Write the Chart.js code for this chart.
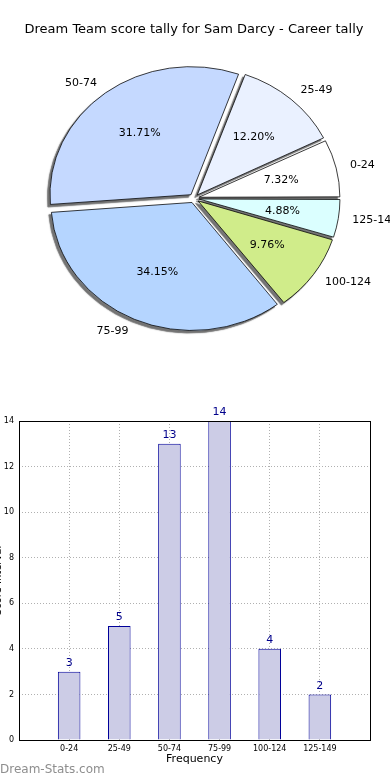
<!DOCTYPE html>
<html>
<head>
<meta charset="utf-8">
<script src="https://cdn.jsdelivr.net/npm/chart.js@4/dist/chart.umd.min.js"></script>
<style>
  html, body { margin: 0; padding: 0; background: #fff; overflow: hidden; }
  body { width: 390px; height: 780px; position: relative; }
  #pieWrap { position: absolute; left: 0; top: 0; width: 390px; height: 400px; }
  #barWrap { position: absolute; left: -10px; top: 400px; width: 400px; height: 380px; }
  #mark { position: absolute; left: 0; top: 762px; font: 12px "DejaVu Sans", sans-serif; color: #8e8e8e; }
</style>
</head>
<body>
<div id="pieWrap"><canvas id="pie" width="390" height="400"></canvas></div>
<div id="barWrap"><canvas id="bar" width="400" height="380"></canvas></div>
<div id="mark">Dream-Stats.com</div>
<script>
document.addEventListener("DOMContentLoaded", function () {
  var chartTitle = "Dream Team score tally for Sam Darcy - Career tally";
  var categories = ["0-24", "25-49", "50-74", "75-99", "100-124", "125-149"];
  var counts = [3, 5, 13, 14, 4, 2];
  var pieColors = ["#ffffff", "#eaf1ff", "#c5d9ff", "#b5d5ff", "#d0ec8a", "#dbffff"];
  var yTicks = [0, 2, 4, 6, 8, 10, 12, 14];

  var FONT = "'DejaVu Sans', sans-serif";
  var SQUASH = 0.908; // pie is drawn a little flatter than a circle
  var PIE_R = 141;
  var EXPLODE = 20;   // chart.js moves a slice by offset / 4

  var total = counts.reduce(function (a, b) { return a + b; }, 0);

  // matplotlib goes counter-clockwise from east; chart.js clockwise, so reverse
  var pieLabels = categories.slice().reverse();
  var pieData = counts.slice().reverse();
  var pieFill = pieColors.slice().reverse();

  var piePlugin = {
    id: "piePlugin",
    afterDatasetUpdate: function (chart) {
      // keep the radius equal for every slice once it is moved out
      chart.getDatasetMeta(0).data.forEach(function (arc) {
        var c = arc.endAngle - arc.startAngle;
        var fix = 1 - Math.sin(Math.min(Math.PI, c));
        arc.outerRadius = PIE_R - (EXPLODE / 4) * fix;
      });
    },
    beforeDatasetsDraw: function (chart) {
      var ctx = chart.ctx;
      var arcs = chart.getDatasetMeta(0).data;
      var a = arcs[0];
      ctx.save();
      ctx.translate(a.x, a.y);
      ctx.scale(1, SQUASH);
      ctx.translate(-a.x, -a.y);
      // shadow pass: the same slices in grey, moved down-left
      ctx.save();
      ctx.translate(-2.5, 2.5 / SQUASH);
      ctx.shadowColor = "rgba(0,0,0,0.35)";
      ctx.shadowBlur = 1.5;
      arcs.forEach(function (arc) {
        var bg = arc.options.backgroundColor, bc = arc.options.borderColor;
        arc.options.backgroundColor = "#777777";
        arc.options.borderColor = "#8a8a8a";
        arc.draw(ctx);
        arc.options.backgroundColor = bg;
        arc.options.borderColor = bc;
      });
      ctx.restore();
    },
    afterDatasetsDraw: function (chart) {
      var ctx = chart.ctx;
      ctx.restore();
      var shift = EXPLODE / 4;
      ctx.save();
      ctx.font = "11px " + FONT;
      ctx.fillStyle = "#000";
      ctx.textBaseline = "middle";
      chart.getDatasetMeta(0).data.forEach(function (arc, i) {
        var mid = (arc.startAngle + arc.endAngle) / 2;
        var cx = Math.cos(mid), cy = Math.sin(mid);
        var lx = arc.x + cx * (shift + 1.1 * PIE_R);
        var ly = arc.y + cy * (shift + 1.1 * PIE_R) * SQUASH;
        ctx.textAlign = cx >= 0 ? "left" : "right";
        ctx.fillText(pieLabels[i], lx, ly);
        var px = arc.x + cx * (shift + 0.6 * PIE_R);
        var py = arc.y + cy * (shift + 0.6 * PIE_R) * SQUASH;
        ctx.textAlign = "center";
        ctx.fillText((pieData[i] / total * 100).toFixed(2) + "%", px, py);
      });
      ctx.restore();
    }
  };

  new Chart(document.getElementById("pie").getContext("2d"), {
    type: "pie",
    data: {
      labels: pieLabels,
      datasets: [{
        data: pieData,
        backgroundColor: pieFill,
        borderColor: "#000",
        borderWidth: 0.8,
        offset: EXPLODE,
        radius: PIE_R
      }]
    },
    options: {
      responsive: false,
      animation: false,
      rotation: 90,
      layout: { padding: { top: 0, bottom: 51, left: 0, right: 2 } },
      plugins: {
        legend: { display: false },
        tooltip: { enabled: false },
        title: {
          display: true,
          text: chartTitle,
          color: "#000",
          font: { family: FONT, size: 13, weight: "normal" },
          padding: { top: 22, bottom: 10 }
        }
      }
    },
    plugins: [piePlugin]
  });

  // bar chart: empty slots at both ends give the -1 .. 6 x range
  var barLabels = [""].concat(categories, [""]);
  var barData = [null].concat(counts, [null]);

  var barPlugin = {
    id: "barPlugin",
    afterDraw: function (chart) {
      var ctx = chart.ctx, area = chart.chartArea;
      ctx.save();
      ctx.strokeStyle = "#000";
      ctx.lineWidth = 1;
      ctx.strokeRect(Math.round(area.left) + 0.5, Math.round(area.top) + 0.5,
        Math.round(area.right - area.left), Math.round(area.bottom - area.top));
      ctx.font = "11px " + FONT;
      ctx.fillStyle = "#00008b";
      ctx.textAlign = "center";
      ctx.textBaseline = "bottom";
      chart.getDatasetMeta(0).data.forEach(function (bar, i) {
        if (barData[i] == null) return;
        ctx.fillText(String(barData[i]), bar.x, bar.y - 3);
      });
      ctx.restore();
    }
  };

  new Chart(document.getElementById("bar").getContext("2d"), {
    type: "bar",
    data: {
      labels: barLabels,
      datasets: [{
        data: barData,
        backgroundColor: "#cccce6",
        borderColor: "#000099",
        borderWidth: 1,
        barPercentage: 0.45,
        categoryPercentage: 1
      }]
    },
    options: {
      responsive: false,
      animation: false,
      layout: { padding: { top: 21, right: 20, bottom: 14, left: 0 } },
      plugins: { legend: { display: false }, tooltip: { enabled: false } },
      scales: {
        x: {
          offset: false,
          z: 1,
          grid: { offset: false, color: "#b0b0b0", drawTicks: false, lineWidth: 1 },
          border: { display: false, dash: [1, 2] },
          ticks: { color: "#000", font: { family: FONT, size: 8 }, padding: 4, maxRotation: 0, autoSkip: false },
          title: { display: true, text: "Frequency", color: "#000", font: { family: FONT, size: 11 }, padding: 0 },
          afterFit: function (s) { s.height = 26; }
        },
        y: {
          min: 0,
          max: 14,
          z: 1,
          afterBuildTicks: function (s) { s.ticks = yTicks.map(function (v) { return { value: v }; }); },
          grid: { color: "#b0b0b0", drawTicks: false, lineWidth: 1 },
          border: { display: false, dash: [1, 2] },
          ticks: { color: "#000", font: { family: FONT, size: 8 }, padding: 5 },
          title: { display: true, text: "Score Interval", color: "#000", font: { family: FONT, size: 10 }, padding: 2 },
          afterFit: function (s) { s.width = 29; }
        }
      }
    },
    plugins: [barPlugin]
  });
});
</script>
</body>
</html>
